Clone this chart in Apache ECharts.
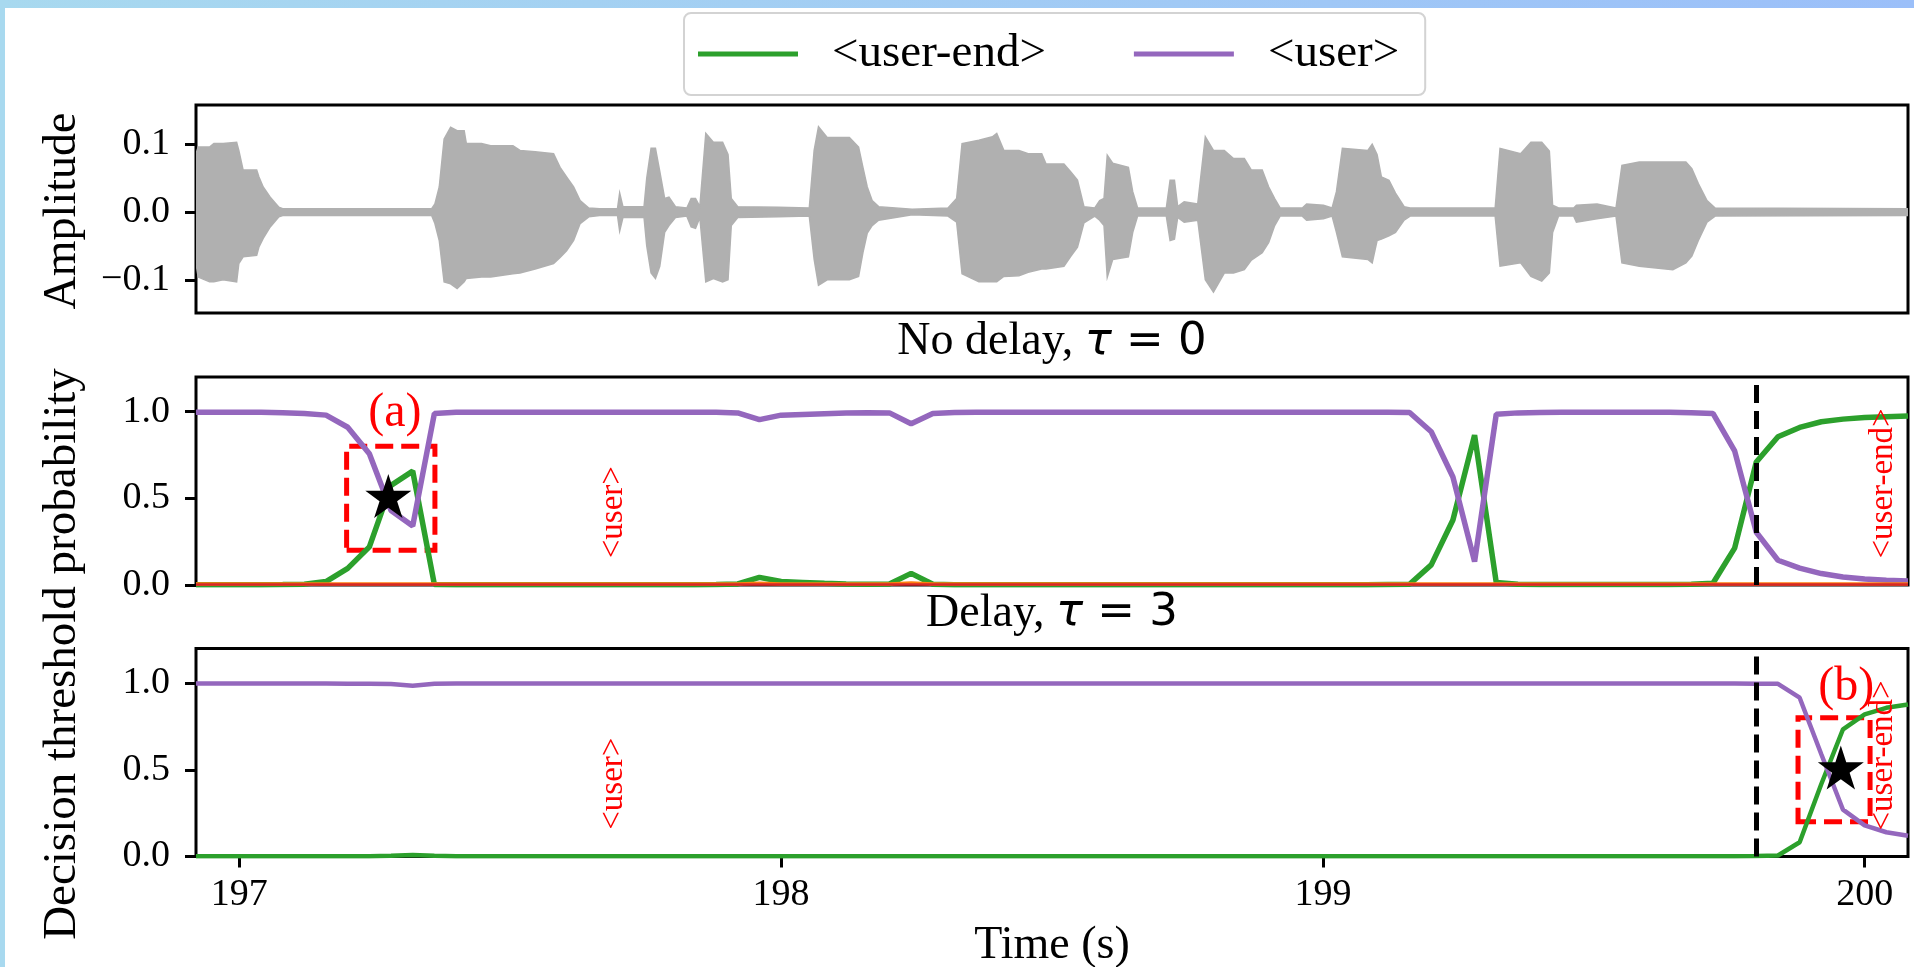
<!DOCTYPE html>
<html>
<head>
<meta charset="utf-8">
<script src="https://cdn.jsdelivr.net/npm/echarts@6/dist/echarts.min.js"></script>
<style>
html,body{margin:0;padding:0;background:#fff;overflow:hidden;}
#chart{position:absolute;left:0;top:0;width:1914px;height:967px;}
#topbar{position:absolute;left:0;top:0;width:1914px;height:8px;background:linear-gradient(90deg,#a8d9ef,#9bbff9);z-index:2;pointer-events:none;}
#leftbar{position:absolute;left:0;top:0;width:5px;height:967px;background:#a8d9ef;z-index:2;pointer-events:none;}
</style>
</head>
<body>
<div id="chart"></div>
<div id="topbar"></div>
<div id="leftbar"></div>
<script>
// ---------------- data ----------------
const xRange = [196.92, 200.08];
const xTickValues = [197, 198, 199, 200];
const ampRange = [-0.149, 0.158];
const ampTickValues = [-0.1, 0, 0.1];
const probRange = [0, 1.2];
const probTickValues = [0, 0.5, 1.0];

// audio envelope: [time (s), upper amplitude, lower amplitude]
const ampEnvelope = [
 [196.920,0.086,-0.076],[196.924,0.096,-0.096],[196.945,0.096,-0.103],[196.953,0.101,-0.103],[196.970,0.101,-0.100],
 [196.995,0.103,-0.103],[196.999,0.091,-0.076],[197.007,0.062,-0.066],[197.032,0.062,-0.064],[197.036,0.052,-0.052],
 [197.044,0.037,-0.039],[197.057,0.022,-0.022],[197.073,0.007,-0.007],[197.080,0.005,-0.005],[197.150,0.005,-0.005],
 [197.250,0.005,-0.005],[197.355,0.005,-0.005],
 [197.361,0.012,-0.017],[197.369,0.037,-0.042],[197.378,0.108,-0.103],[197.390,0.125,-0.106],[197.402,0.120,-0.113],
 [197.415,0.120,-0.103],[197.419,0.101,-0.098],[197.447,0.101,-0.096],[197.464,0.098,-0.096],[197.505,0.098,-0.091],
 [197.518,0.091,-0.090],[197.546,0.089,-0.084],[197.580,0.086,-0.076],[197.592,0.066,-0.067],[197.604,0.052,-0.057],
 [197.617,0.037,-0.042],[197.629,0.017,-0.017],[197.645,0.006,-0.007],
 [197.665,0.005,-0.005],[197.698,0.005,-0.005],[197.702,0.028,-0.028],[197.708,0.008,-0.008],[197.722,0.008,-0.008],
 [197.747,0.008,-0.008],[197.752,0.050,-0.050],[197.760,0.094,-0.090],[197.768,0.094,-0.098],[197.776,0.060,-0.080],
 [197.785,0.020,-0.030],[197.793,0.022,-0.020],[197.805,0.008,-0.008],[197.826,0.006,-0.006],[197.834,0.020,-0.022],
 [197.842,0.020,-0.024],[197.850,0.008,-0.008],[197.861,0.116,-0.103],[197.875,0.103,-0.098],[197.892,0.103,-0.103],
 [197.902,0.085,-0.100],[197.908,0.020,-0.020],[197.920,0.008,-0.008],[197.995,0.007,-0.007],[198.052,0.006,-0.006],
 [198.061,0.091,-0.070],[198.069,0.126,-0.108],[198.085,0.110,-0.100],[198.126,0.110,-0.100],[198.143,0.096,-0.095],
 [198.151,0.066,-0.060],[198.159,0.037,-0.031],[198.168,0.017,-0.020],[198.180,0.008,-0.012],[198.242,0.004,-0.004],
 [198.308,0.006,-0.006],[198.324,0.020,-0.015],[198.334,0.101,-0.091],[198.365,0.106,-0.103],[198.390,0.111,-0.103],
 [198.398,0.116,-0.103],[198.411,0.091,-0.095],[198.439,0.091,-0.094],[198.456,0.086,-0.089],[198.481,0.086,-0.084],
 [198.489,0.071,-0.084],[198.522,0.071,-0.080],[198.534,0.060,-0.066],[198.547,0.047,-0.052],[198.559,0.008,-0.016],
 [198.579,0.006,-0.006],[198.588,0.017,-0.012],[198.596,0.020,-0.020],[198.602,0.084,-0.096],[198.612,0.072,-0.070],
 [198.641,0.066,-0.066],[198.649,0.030,-0.030],[198.658,0.006,-0.006],[198.711,0.006,-0.006],[198.718,0.047,-0.042],
 [198.726,0.047,-0.040],[198.732,0.008,-0.008],[198.744,0.015,-0.015],[198.769,0.012,-0.012],[198.783,0.111,-0.100],
 [198.798,0.091,-0.118],[198.818,0.091,-0.090],[198.835,0.079,-0.090],[198.855,0.079,-0.085],[198.868,0.062,-0.071],
 [198.888,0.062,-0.060],[198.900,0.037,-0.045],[198.911,0.020,-0.020],[198.921,0.006,-0.006],[198.962,0.006,-0.006],
 [198.970,0.012,-0.012],[199.001,0.010,-0.010],[199.017,0.006,-0.006],[199.025,0.030,-0.030],[199.036,0.094,-0.066],
 [199.083,0.091,-0.070],[199.091,0.100,-0.075],[199.100,0.085,-0.042],[199.108,0.052,-0.040],[199.122,0.047,-0.035],
 [199.134,0.028,-0.030],[199.150,0.008,-0.012],[199.161,0.006,-0.006],[199.318,0.006,-0.006],[199.327,0.094,-0.080],
 [199.365,0.086,-0.075],[199.384,0.103,-0.095],[199.404,0.103,-0.102],[199.418,0.090,-0.090],[199.424,0.010,-0.030],
 [199.435,0.006,-0.006],[199.463,0.006,-0.006],[199.468,0.010,-0.015],[199.506,0.012,-0.010],[199.541,0.006,-0.006],
 [199.552,0.069,-0.075],[199.584,0.074,-0.080],[199.646,0.074,-0.085],[199.670,0.074,-0.075],[199.681,0.064,-0.065],
 [199.693,0.042,-0.042],[199.709,0.017,-0.015],[199.724,0.006,-0.006],[200.080,0.005,-0.005]
];

// model frames (s)
const frameTimes = [
 196.92,196.96,197.00,197.04,197.08,197.12,197.16,197.20,197.24,197.28,
 197.32,197.36,197.40,197.44,197.48,197.52,197.56,197.60,197.64,197.68,
 197.72,197.76,197.80,197.84,197.88,197.92,197.96,198.00,198.04,198.08,
 198.12,198.16,198.20,198.24,198.28,198.32,198.36,198.40,198.44,198.48,
 198.52,198.56,198.60,198.64,198.68,198.72,198.76,198.80,198.84,198.88,
 198.92,198.96,199.00,199.04,199.08,199.12,199.16,199.20,199.24,199.28,
 199.32,199.36,199.40,199.44,199.48,199.52,199.56,199.60,199.64,199.68,
 199.72,199.76,199.80,199.84,199.88,199.92,199.96,200.00,200.04,200.08
];

// No delay, tau = 0
const userEndNoDelay = [
 0.002,0.002,0.002,0.002,0.003,0.005,0.020,0.096,0.220,0.575,
 0.657,0.003,0.002,0.002,0.002,0.002,0.002,0.002,0.002,0.002,
 0.002,0.002,0.002,0.002,0.003,0.006,0.044,0.020,0.015,0.010,
 0.006,0.005,0.006,0.067,0.004,0.002,0.002,0.002,0.002,0.002,
 0.002,0.002,0.002,0.002,0.002,0.002,0.002,0.002,0.002,0.002,
 0.002,0.002,0.002,0.002,0.002,0.003,0.004,0.116,0.375,0.865,
 0.014,0.004,0.003,0.003,0.003,0.003,0.003,0.003,0.003,0.004,
 0.010,0.213,0.710,0.855,0.909,0.942,0.957,0.967,0.971,0.975
];
const userNoDelay = [
 0.997,0.997,0.997,0.996,0.994,0.990,0.980,0.910,0.757,0.430,
 0.340,0.990,0.996,0.997,0.997,0.997,0.997,0.997,0.997,0.997,
 0.997,0.997,0.997,0.997,0.996,0.993,0.954,0.980,0.984,0.988,
 0.992,0.994,0.993,0.930,0.990,0.995,0.996,0.997,0.997,0.997,
 0.997,0.997,0.997,0.997,0.997,0.997,0.997,0.997,0.997,0.997,
 0.997,0.997,0.997,0.997,0.997,0.996,0.995,0.884,0.623,0.135,
 0.985,0.993,0.995,0.996,0.996,0.997,0.997,0.997,0.996,0.994,
 0.990,0.774,0.304,0.143,0.097,0.066,0.046,0.035,0.027,0.023
];
const otherANoDelay = [
 0.006,0.006,0.006,0.006,0.006,0.006,0.006,0.006,0.006,0.006,
 0.006,0.006,0.006,0.006,0.006,0.006,0.006,0.006,0.006,0.006,
 0.006,0.006,0.006,0.006,0.006,0.006,0.010,0.006,0.006,0.006,
 0.006,0.006,0.006,0.012,0.006,0.006,0.006,0.006,0.006,0.006,
 0.006,0.006,0.006,0.006,0.006,0.006,0.006,0.006,0.006,0.006,
 0.006,0.006,0.006,0.006,0.006,0.006,0.006,0.006,0.006,0.006,
 0.006,0.006,0.006,0.006,0.006,0.006,0.006,0.006,0.006,0.006,
 0.006,0.006,0.006,0.006,0.006,0.006,0.006,0.006,0.006,0.006
];
const otherBNoDelay = [
 0.003,0.003,0.003,0.003,0.003,0.003,0.003,0.003,0.003,0.003,
 0.003,0.003,0.003,0.003,0.003,0.003,0.003,0.003,0.003,0.003,
 0.003,0.003,0.003,0.003,0.003,0.003,0.003,0.003,0.003,0.003,
 0.003,0.003,0.003,0.003,0.003,0.003,0.003,0.003,0.003,0.003,
 0.003,0.003,0.003,0.003,0.003,0.003,0.003,0.003,0.003,0.003,
 0.003,0.003,0.003,0.003,0.003,0.003,0.003,0.003,0.003,0.003,
 0.003,0.003,0.003,0.003,0.003,0.003,0.003,0.003,0.003,0.003,
 0.003,0.003,0.003,0.003,0.003,0.003,0.003,0.003,0.003,0.003
];

// Delay, tau = 3
const userEndDelay = [
 0.002,0.002,0.002,0.002,0.002,0.002,0.002,0.002,0.002,0.004,
 0.008,0.004,0.002,0.002,0.002,0.002,0.002,0.002,0.002,0.002,
 0.002,0.002,0.002,0.002,0.002,0.002,0.002,0.002,0.002,0.002,
 0.002,0.002,0.002,0.002,0.002,0.002,0.002,0.002,0.002,0.002,
 0.002,0.002,0.002,0.002,0.002,0.002,0.002,0.002,0.002,0.002,
 0.002,0.002,0.002,0.002,0.002,0.002,0.002,0.002,0.002,0.002,
 0.002,0.002,0.002,0.002,0.002,0.002,0.002,0.002,0.002,0.002,
 0.002,0.002,0.003,0.006,0.082,0.418,0.734,0.820,0.858,0.877
];
const userDelay = [
 0.998,0.998,0.998,0.998,0.998,0.998,0.998,0.997,0.997,0.995,
 0.985,0.996,0.998,0.998,0.998,0.998,0.998,0.998,0.998,0.998,
 0.998,0.998,0.998,0.998,0.998,0.998,0.998,0.998,0.998,0.998,
 0.998,0.998,0.998,0.998,0.998,0.998,0.998,0.998,0.998,0.998,
 0.998,0.998,0.998,0.998,0.998,0.998,0.998,0.998,0.998,0.998,
 0.998,0.998,0.998,0.998,0.998,0.998,0.998,0.998,0.998,0.998,
 0.998,0.998,0.998,0.998,0.998,0.998,0.998,0.998,0.998,0.998,
 0.998,0.998,0.997,0.996,0.916,0.590,0.270,0.180,0.140,0.120
];

const decisionTime = 199.80;
const starNoDelay = [[197.275, 0.5]];
const starDelay = [[199.956, 0.5]];
const boxNoDelay = [[197.198, 0.2], [197.361, 0.8]];
const boxDelay = [[199.877, 0.2], [200.010, 0.8]];
const tokenLabelsNoDelay = [[197.69, 0.42, '<user>'], [200.035, 0.586, '<user-end>']];
const tokenLabelsDelay = [[197.69, 0.42, '<user>'], [200.035, 0.583, '<user-end>']];
const caseLabelNoDelay = [[197.287, 0.99, '(a)']];
const caseLabelDelay = [[199.966, 0.973, '(b)']];

// ---------------- chart ----------------
const SERIF = 'Liberation Serif';
const C_GREEN = '#2ca02c', C_PURPLE = '#9467bd', C_ORANGE = '#ff7f0e', C_RED = '#d62728';
const STAR = 'path://M0,-1L0.2245,-0.309L0.9511,-0.309L0.3633,0.118L0.5878,0.809L0,0.382L-0.5878,0.809L-0.3633,0.118L-0.9511,-0.309L-0.2245,-0.309Z';

const pair = (arr) => frameTimes.map((t, i) => [t, arr[i]]);

function xAxisDef(gi, showLabels) {
  return {
    type: 'value', gridIndex: gi, min: xRange[0], max: xRange[1],
    axisLine: {show: false}, splitLine: {show: false},
    axisTick: {show: showLabels, customValues: xTickValues, length: 11, inside: false, lineStyle: {color: '#000', width: 3}},
    axisLabel: {show: showLabels, customValues: xTickValues, margin: 20, color: '#000', fontFamily: SERIF, fontSize: 38,
      formatter: (v) => String(Math.round(v))}
  };
}
function yAxisDef(gi, range, ticks, fmt) {
  return {
    type: 'value', gridIndex: gi, min: range[0], max: range[1],
    axisLine: {show: false}, splitLine: {show: false},
    axisTick: {show: true, customValues: ticks, length: 11, inside: false, lineStyle: {color: '#000', width: 3}},
    axisLabel: {show: true, customValues: ticks, margin: 26, color: '#000', fontFamily: SERIF, fontSize: 38, formatter: fmt}
  };
}
const probFmt = (v) => v.toFixed(1);
const ampFmt = (v) => (v < -1e-9 ? '\u2212' : '') + Math.abs(v).toFixed(1);

function gridDef(top) {
  return {left: 196, top: top, width: 1712, height: 208, show: true, borderColor: '#000', borderWidth: 3,
    backgroundColor: 'rgba(0,0,0,0)', containLabel: false, outerBoundsMode: 'none'};
}

function probLine(name, arr, color, xi, width, z) {
  return {type: 'line', name: name, xAxisIndex: xi, yAxisIndex: xi, data: pair(arr),
    showSymbol: false, symbol: 'none', color: color, z: z,
    lineStyle: {color: color, width: width, opacity: 1}, silent: true, animation: false};
}

function decisionMarkLine() {
  return {symbol: ['none', 'none'], silent: true, animation: false, label: {show: false},
    lineStyle: {color: '#000', width: 5, type: [18, 8], opacity: 1}, data: [{xAxis: decisionTime}]};
}

function starSeries(xi, data, box) {
  return {type: 'scatter', name: 'star' + xi, xAxisIndex: xi, yAxisIndex: xi, data: data,
    symbol: STAR, symbolSize: [46, 44], symbolOffset: [0, -2.3], itemStyle: {color: '#000', opacity: 1}, z: 6, silent: true,
    markArea: {silent: true, animation: false,
      itemStyle: {color: 'rgba(0,0,0,0)', borderColor: '#ff0000', borderWidth: 5, borderType: [18, 8], opacity: 1},
      data: [[{coord: box[0]}, {coord: box[1]}]]}};
}

function textSeries(xi, data, size, rotate) {
  return {type: 'scatter', name: 'txt' + xi + '_' + size, xAxisIndex: xi, yAxisIndex: xi,
    data: data, symbolSize: 1, itemStyle: {color: 'rgba(0,0,0,0)', opacity: 1}, z: 7, silent: true,
    label: {show: true, position: 'inside', rotate: rotate, color: '#ff0000', opacity: 1, fontFamily: SERIF, fontSize: size,
      align: 'center', verticalAlign: 'middle', formatter: (p) => p.value[2]}};
}

const RICH = {
  a: {fontFamily: SERIF, fontSize: 46, fill: '#000'},
  b: {fontFamily: 'DejaVu Sans', fontStyle: 'italic', fontSize: 45, fill: '#000'},
  c: {fontFamily: 'DejaVu Sans', fontSize: 45, fill: '#000'}
};

const option = {
  animation: false,
  backgroundColor: '#ffffff',
  legend: {
    data: ['<user-end>', '<user>'], left: 684, top: 13, orient: 'horizontal',
    icon: 'rect', itemWidth: 100, itemHeight: 5, itemGap: 88,
    padding: [16, 26, 16, 14],
    backgroundColor: '#ffffff', borderColor: '#d3d3d3', borderWidth: 2, borderRadius: 7,
    selectedMode: false,
    textStyle: {fontFamily: SERIF, fontSize: 47, color: '#000', padding: [0, 0, 0, 29], lineHeight: 50}
  },
  grid: [gridDef(105), gridDef(377), gridDef(648.5)],
  xAxis: [xAxisDef(0, false), xAxisDef(1, false), xAxisDef(2, true)],
  yAxis: [yAxisDef(0, ampRange, ampTickValues, ampFmt), yAxisDef(1, probRange, probTickValues, probFmt), yAxisDef(2, probRange, probTickValues, probFmt)],
  graphic: [
    {type: 'text', x: 1052, y: 342, silent: true, style: {text: '{a|No delay, }{b|\u03c4}{c| = 0}', align: 'center', verticalAlign: 'middle', rich: RICH}},
    {type: 'text', x: 1052, y: 613.5, silent: true, style: {text: '{a|Delay, }{b|\u03c4}{c| = 3}', align: 'center', verticalAlign: 'middle', rich: RICH}},
    {type: 'text', x: 63, y: 211, rotation: Math.PI / 2, silent: true, style: {text: 'Amplitude', align: 'center', verticalAlign: 'middle', fontFamily: SERIF, fontSize: 46, fill: '#000'}},
    {type: 'text', x: 63, y: 654, rotation: Math.PI / 2, silent: true, style: {text: 'Decision threshold probability', align: 'center', verticalAlign: 'middle', fontFamily: SERIF, fontSize: 47, fill: '#000'}},
    {type: 'text', x: 1052, y: 946, silent: true, style: {text: 'Time (s)', align: 'center', verticalAlign: 'middle', fontFamily: SERIF, fontSize: 46, fill: '#000'}}
  ],
  series: [
    {type: 'custom', name: 'waveform', xAxisIndex: 0, yAxisIndex: 0, data: ampEnvelope, clip: true, silent: true,
      encode: {x: 0, y: 1},
      renderItem: function (params, api) {
        if (params.dataIndex !== 0) return null;
        const up = ampEnvelope.map((p) => api.coord([p[0], p[1]]));
        const lo = ampEnvelope.slice().reverse().map((p) => api.coord([p[0], p[2]]));
        return {type: 'polygon', shape: {points: up.concat(lo)}, style: {fill: '#b0b0b0', stroke: '#b0b0b0', lineWidth: 1.5}};
      }},
    probLine('<user-end>', userEndNoDelay, C_GREEN, 1, 5.5, 2),
    Object.assign(probLine('<user>', userNoDelay, C_PURPLE, 1, 5.5, 3), {markLine: decisionMarkLine()}),
    probLine('class-2', otherANoDelay, C_ORANGE, 1, 3.5, 4),
    probLine('class-3', otherBNoDelay, C_RED, 1, 2.5, 4),
    probLine('<user-end>', userEndDelay, C_GREEN, 2, 4.5, 2),
    Object.assign(probLine('<user>', userDelay, C_PURPLE, 2, 4.5, 3), {markLine: decisionMarkLine()}),
    starSeries(1, starNoDelay, boxNoDelay),
    starSeries(2, starDelay, boxDelay),
    textSeries(1, tokenLabelsNoDelay, 33, 90),
    textSeries(2, tokenLabelsDelay, 33, 90),
    textSeries(1, caseLabelNoDelay, 48, 0),
    textSeries(2, caseLabelDelay, 48, 0)
  ]
};

const chart = echarts.init(document.getElementById('chart'), null, {renderer: 'canvas', devicePixelRatio: 1, width: 1914, height: 967});
chart.setOption(option);
</script>
</body>
</html>
